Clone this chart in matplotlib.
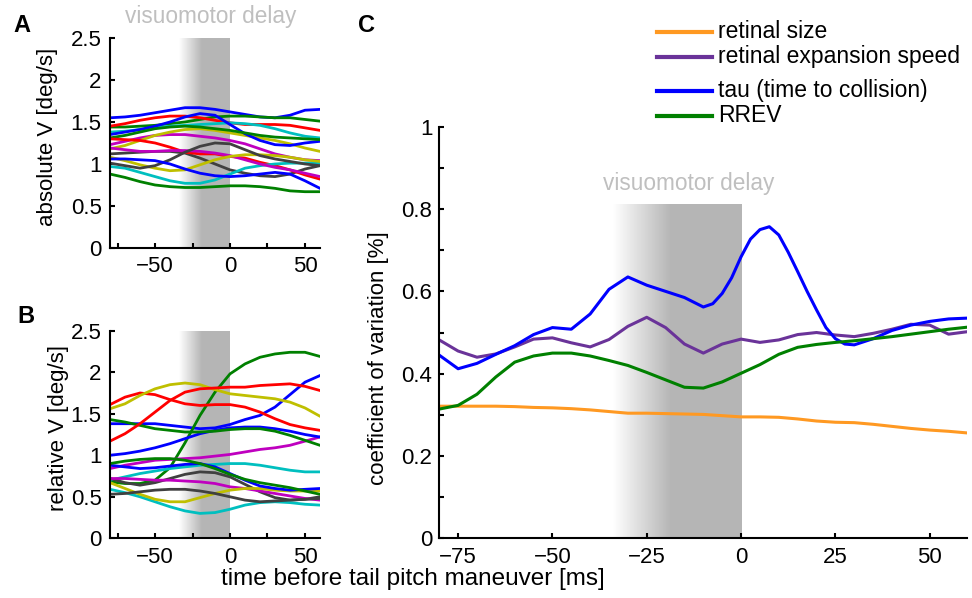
import matplotlib.pyplot as plt
import numpy as np
from matplotlib.colors import LinearSegmentedColormap
from matplotlib.lines import Line2D
from matplotlib.ticker import MultipleLocator, FormatStrFormatter

plt.rcParams['font.family'] = 'Liberation Sans'
plt.rcParams['font.size'] = 16
plt.rcParams['axes.linewidth'] = 1.5

# ---- data ----
t_ab = [-80, -70, -60, -50, -40, -30, -20, -10, 0, 10, 20, 30, 40, 50, 60]
trace_colors = ['b', 'g', 'r', 'c', 'm', 'y', 'k', 'b', 'g', 'r', 'c', 'm', 'y', 'k', 'b', 'g']

# panel A: absolute V [deg/s]
abs_v = [
    [1.55, 1.56, 1.58, 1.61, 1.64, 1.67, 1.67, 1.65, 1.62, 1.59, 1.56, 1.55, 1.58, 1.64, 1.65],
    [1.44, 1.44, 1.45, 1.46, 1.48, 1.50, 1.53, 1.56, 1.57, 1.57, 1.56, 1.55, 1.55, 1.53, 1.51],
    [1.45, 1.48, 1.52, 1.55, 1.57, 1.57, 1.55, 1.52, 1.49, 1.47, 1.47, 1.47, 1.46, 1.43, 1.40],
    [1.38, 1.39, 1.41, 1.43, 1.45, 1.46, 1.47, 1.48, 1.49, 1.48, 1.46, 1.42, 1.37, 1.33, 1.31],
    [1.23, 1.27, 1.31, 1.34, 1.35, 1.35, 1.33, 1.31, 1.28, 1.24, 1.18, 1.12, 1.08, 1.05, 1.04],
    [1.18, 1.22, 1.28, 1.34, 1.38, 1.41, 1.42, 1.40, 1.37, 1.34, 1.31, 1.28, 1.24, 1.19, 1.15],
    [1.12, 1.13, 1.14, 1.15, 1.15, 1.13, 1.07, 1.00, 0.93, 0.89, 0.86, 0.85, 0.88, 0.94, 0.98],
    [1.35, 1.38, 1.41, 1.45, 1.50, 1.56, 1.60, 1.58, 1.47, 1.36, 1.28, 1.23, 1.22, 1.25, 1.27],
    [1.31, 1.34, 1.38, 1.42, 1.44, 1.45, 1.44, 1.42, 1.40, 1.37, 1.34, 1.32, 1.31, 1.30, 1.29],
    [1.30, 1.29, 1.28, 1.25, 1.20, 1.14, 1.12, 1.12, 1.09, 1.07, 1.02, 0.98, 0.93, 0.87, 0.82],
    [0.97, 0.95, 0.90, 0.85, 0.80, 0.77, 0.77, 0.81, 0.88, 0.95, 0.98, 1.00, 1.01, 1.01, 1.01],
    [1.19, 1.17, 1.15, 1.15, 1.16, 1.16, 1.15, 1.13, 1.10, 1.05, 1.00, 0.96, 0.93, 0.89, 0.85],
    [1.08, 1.04, 0.99, 0.95, 0.92, 0.93, 0.99, 1.05, 1.09, 1.11, 1.11, 1.10, 1.08, 1.05, 1.03],
    [1.01, 0.98, 0.95, 0.98, 1.05, 1.14, 1.21, 1.25, 1.24, 1.17, 1.10, 1.06, 1.03, 1.00, 0.98],
    [1.06, 1.06, 1.05, 1.04, 1.00, 0.94, 0.89, 0.86, 0.85, 0.86, 0.88, 0.90, 0.88, 0.80, 0.71],
    [0.88, 0.84, 0.79, 0.75, 0.73, 0.72, 0.72, 0.73, 0.74, 0.74, 0.73, 0.71, 0.68, 0.67, 0.67],
]

# panel B: relative V [deg/s]
rel_v = [
    [1.38, 1.38, 1.38, 1.38, 1.36, 1.34, 1.32, 1.33, 1.37, 1.43, 1.48, 1.58, 1.73, 1.88, 1.96],
    [0.68, 0.66, 0.66, 0.70, 0.85, 1.15, 1.48, 1.76, 1.98, 2.10, 2.18, 2.22, 2.24, 2.24, 2.19],
    [1.61, 1.70, 1.75, 1.73, 1.67, 1.62, 1.60, 1.61, 1.61, 1.58, 1.52, 1.44, 1.37, 1.33, 1.30],
    [0.70, 0.74, 0.78, 0.81, 0.84, 0.86, 0.88, 0.89, 0.90, 0.90, 0.88, 0.85, 0.82, 0.80, 0.80],
    [0.84, 0.88, 0.91, 0.94, 0.95, 0.96, 0.97, 0.99, 1.01, 1.04, 1.07, 1.09, 1.12, 1.17, 1.22],
    [1.56, 1.62, 1.72, 1.80, 1.85, 1.87, 1.85, 1.79, 1.74, 1.72, 1.70, 1.68, 1.64, 1.57, 1.47],
    [0.72, 0.67, 0.64, 0.67, 0.72, 0.77, 0.80, 0.79, 0.74, 0.65, 0.56, 0.49, 0.46, 0.47, 0.50],
    [1.00, 1.02, 1.05, 1.09, 1.14, 1.20, 1.26, 1.30, 1.33, 1.34, 1.34, 1.32, 1.29, 1.25, 1.22],
    [1.43, 1.40, 1.36, 1.32, 1.30, 1.28, 1.28, 1.29, 1.31, 1.32, 1.32, 1.29, 1.24, 1.18, 1.12],
    [1.17, 1.26, 1.38, 1.52, 1.66, 1.76, 1.80, 1.81, 1.82, 1.82, 1.84, 1.85, 1.86, 1.83, 1.78],
    [0.59, 0.55, 0.50, 0.44, 0.38, 0.33, 0.30, 0.31, 0.35, 0.40, 0.43, 0.44, 0.43, 0.41, 0.40],
    [0.72, 0.72, 0.71, 0.70, 0.70, 0.69, 0.68, 0.66, 0.62, 0.60, 0.57, 0.54, 0.51, 0.48, 0.46],
    [0.67, 0.60, 0.53, 0.47, 0.44, 0.44, 0.49, 0.54, 0.58, 0.60, 0.60, 0.58, 0.57, 0.57, 0.57],
    [0.53, 0.54, 0.56, 0.58, 0.59, 0.59, 0.57, 0.54, 0.50, 0.46, 0.44, 0.45, 0.46, 0.47, 0.48],
    [0.88, 0.86, 0.84, 0.85, 0.87, 0.89, 0.90, 0.86, 0.78, 0.70, 0.63, 0.60, 0.58, 0.59, 0.60],
    [0.90, 0.93, 0.95, 0.96, 0.96, 0.94, 0.90, 0.84, 0.77, 0.71, 0.67, 0.64, 0.61, 0.57, 0.53],
]

# panel C: coefficient of variation
t_c = [-80, -75, -70, -65, -60, -55, -50, -45, -40, -35, -30, -25, -20, -15, -10,
       -5, 0, 5, 10, 15, 20, 25, 30, 35, 40, 45, 50, 55, 60]
retinal_size = [0.321, 0.321, 0.321, 0.321, 0.320, 0.318, 0.317, 0.315, 0.312, 0.308,
                0.304, 0.304, 0.303, 0.302, 0.301, 0.298, 0.295, 0.295, 0.294, 0.290,
                0.285, 0.282, 0.281, 0.277, 0.272, 0.267, 0.263, 0.260, 0.256]
expansion_speed = [0.482, 0.455, 0.440, 0.448, 0.465, 0.484, 0.487, 0.475, 0.465, 0.483,
                   0.515, 0.537, 0.512, 0.472, 0.450, 0.472, 0.484, 0.476, 0.482, 0.495,
                   0.500, 0.494, 0.490, 0.498, 0.508, 0.520, 0.518, 0.496, 0.502]
rrev = [0.314, 0.323, 0.350, 0.392, 0.428, 0.443, 0.450, 0.450, 0.443, 0.432,
        0.420, 0.403, 0.385, 0.367, 0.365, 0.380, 0.401, 0.422, 0.447, 0.464,
        0.471, 0.476, 0.480, 0.485, 0.490, 0.496, 0.502, 0.508, 0.513]
# tau is read more finely around its sharp peak
t_tau = [-80, -75, -70, -65, -60, -55, -50, -45, -40, -35, -30, -25, -20, -15,
         -10, -7.5, -5, -2.5, 0, 2.5, 5, 7.5, 10, 12.5, 15, 17.5, 20, 22.5, 25, 27.5,
         30, 35, 40, 45, 50, 55, 60]
tau = [0.445, 0.412, 0.425, 0.447, 0.468, 0.495, 0.512, 0.508, 0.545, 0.605,
       0.635, 0.615, 0.600, 0.585,
       0.562, 0.570, 0.595, 0.633, 0.684, 0.727, 0.750, 0.757, 0.737, 0.695,
       0.648, 0.600, 0.555, 0.512, 0.485, 0.472,
       0.470, 0.485, 0.505, 0.518, 0.527, 0.533, 0.535]
c_labels = ['retinal size', 'retinal expansion speed', 'tau (time to collision)', 'RREV']

# ---- style ----
matlab = {'b': (0, 0, 1), 'g': (0, 0.5, 0), 'r': (1, 0, 0), 'c': (0, 0.75, 0.75),
          'm': (0.75, 0, 0.75), 'y': (0.75, 0.75, 0), 'k': (0.25, 0.25, 0.25)}
c_colors = ['#ff9922', '#6a3399', '#0000ff', '#008000']
delay_start, delay_end = -34, 0
shade_gray = (0.71, 0.71, 0.71)
text_gray = (0.75, 0.75, 0.75)
delay_cmap = LinearSegmentedColormap.from_list(
    'delay', [(0, 'white'), (0.45, shade_gray), (1, shade_gray)])
gradient = np.linspace(0, 1, 256)[None, :]


def style_axes(ax, xpad=6, ypad=6):
    for side in ['top', 'right']:
        ax.spines[side].set_visible(False)
    ax.tick_params(which='both', direction='in', length=3.6, width=1.5)
    ax.tick_params(axis='x', pad=xpad)
    ax.tick_params(axis='y', pad=ypad)
    ax.yaxis.set_major_formatter(FormatStrFormatter('%g'))


def shade(ax, top):
    ax.imshow(gradient, cmap=delay_cmap, aspect='auto', zorder=0,
              extent=(delay_start, delay_end, 0, top), interpolation='bilinear')


fig = plt.figure(figsize=(9.72, 5.98), dpi=100)
axA = fig.add_axes([0.1132, 0.5853, 0.2160, 0.3512])
axB = fig.add_axes([0.1132, 0.0998, 0.2160, 0.3472])
axC = fig.add_axes([0.4519, 0.0998, 0.5434, 0.6883])

for ax, traces, lab, lx in [(axA, abs_v, 'absolute V [deg/s]', -0.298),
                            (axB, rel_v, 'relative V [deg/s]', -0.245)]:
    shade(ax, 2.5)
    for col, y in zip(trace_colors, traces):
        ax.plot(t_ab, y, color=matlab[col], lw=2.0, zorder=2)
    ax.set_xlim(-80, 60)
    ax.set_ylim(0, 2.5)
    ax.xaxis.set_major_locator(MultipleLocator(50))
    ax.xaxis.set_minor_locator(MultipleLocator(25))
    ax.yaxis.set_major_locator(MultipleLocator(0.5))
    style_axes(ax)
    ax.set_ylabel(lab, va='center', ha='center')
    ax.yaxis.set_label_coords(lx, 0.53)

axA.text(-13, 2.75, 'visuomotor delay', color=text_gray, ha='center', va='center',
         clip_on=False, fontsize=16.3)

shade(axC, 0.81)
series_c = [(t_c, retinal_size), (t_c, expansion_speed), (t_tau, tau), (t_c, rrev)]
for (x, y), col, lab in zip(series_c, c_colors, c_labels):
    axC.plot(x, y, color=col, lw=2.2, zorder=2, label=lab)
axC.set_xlim(-80, 60)
axC.set_ylim(0, 1)
axC.xaxis.set_major_locator(MultipleLocator(25))
axC.yaxis.set_major_locator(MultipleLocator(0.2))
axC.yaxis.set_minor_locator(MultipleLocator(0.1))
style_axes(axC, ypad=5)
axC.set_ylabel('coefficient of variation [%]', va='center', ha='center')
axC.yaxis.set_label_coords(-0.115, 0.438)
axC.text(-14, 0.863, 'visuomotor delay', color=text_gray, ha='center', va='center',
         fontsize=16.3)

# legend drawn by hand to keep the uneven row spacing of the original
legend_rows = [31.7, 57, 90.7, 115.7]
W, H = 972, 598
for col, lab, yp in zip(c_colors, c_labels, legend_rows):
    fig.add_artist(Line2D([657 / W, 712 / W], [1 - yp / H, 1 - yp / H], color=col,
                          lw=3, transform=fig.transFigure))
    fig.text(718 / W, 1 - yp / H, lab, ha='left', va='center', fontsize=16.5)

fig.text(412.5 / W, 1 - 579 / H, 'time before tail pitch maneuver [ms]',
         ha='center', va='center', fontsize=17.5)

for letter, xp, yp in [('A', 13, 32), ('B', 17, 323), ('C', 358, 32)]:
    fig.text(xp / W, 1 - yp / H, letter, fontsize=17, fontweight='bold',
             ha='left', va='baseline')

fig.savefig('out.png', dpi=100)
